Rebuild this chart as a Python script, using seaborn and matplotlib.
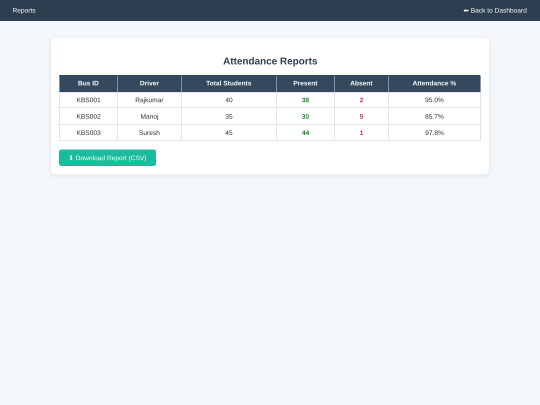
import matplotlib
matplotlib.use("Agg")
import matplotlib.pyplot as plt
import matplotlib.patheffects as pe
from matplotlib.patches import FancyBboxPatch, Rectangle
import seaborn as sns

sns.set_theme(style="white")
FONT = ["Liberation Sans", "DejaVu Sans"]
plt.rcParams["font.family"] = FONT

columns = ["Bus ID", "Driver", "Total Students", "Present", "Absent", "Attendance %"]
bus_ids = ["KBS001", "KBS002", "KBS003"]
drivers = ["Rajkumar", "Manoj", "Suresh"]
totals = [40, 35, 45]
present = [38, 30, 44]
absent = [2, 5, 1]
attendance = ["95.0%", "85.7%", "97.8%"]
col_edges = [59, 117, 181, 276, 334, 388, 480]
row_edges = [75, 91.5, 107, 123.5, 140]
row_baselines = [102.2, 118.7, 135.0]

W, H = 540, 405
fig = plt.figure(figsize=(W / 100, H / 100), dpi=100, facecolor="#f4f7fb")
ax = fig.add_axes([0, 0, 1, 1])
ax.set_xlim(0, W)
ax.set_ylim(H, 0)
ax.axis("off")


def label(x, y, s, color, size, weight="normal", ha="center"):
    ax.text(x, y, s, color=color, fontsize=size, fontweight=weight, ha=ha, va="baseline",
            path_effects=[pe.Normal()])


# nav bar
ax.add_patch(Rectangle((0, 0), W, 20.5, fc="#2c3e50", ec="none"))
label(12.5, 12.6, "Reports", "white", 4.75, ha="left")
label(527, 12.6, "⬅ Back to Dashboard", "white", 4.75, ha="right")

# card shadow + card
for grow, a in [(5, 0.004), (4, 0.005), (3, 0.006), (2, 0.008), (1, 0.01)]:
    ax.add_patch(FancyBboxPatch((51 - grow, 38 - grow + 1.5), 438 + 2 * grow, 136 + 2 * grow,
                                boxstyle=f"round,pad=0,rounding_size={6 + grow}",
                                fc="black", ec="none", alpha=a))
ax.add_patch(FancyBboxPatch((51, 38), 438, 136, boxstyle="round,pad=0,rounding_size=5",
                            fc="white", ec="none"))

label(270, 64.4, "Attendance Reports", "#2c3e50", 7.15, "bold")

# table
ax.add_patch(Rectangle((col_edges[0], row_edges[0]), col_edges[-1] - col_edges[0],
                       row_edges[1] - row_edges[0], fc="#34495e", ec="none"))
for x in col_edges:
    ax.plot([x, x], [row_edges[0], row_edges[1]], color="#8494a3", lw=0.7, solid_capstyle="butt")
    ax.plot([x, x], [row_edges[1], row_edges[-1]], color="#e3e5e8", lw=0.7, solid_capstyle="butt")
for y in row_edges[1:]:
    ax.plot([col_edges[0], col_edges[-1]], [y, y], color="#e3e5e8", lw=0.7, solid_capstyle="butt")

centers = [(a + b) / 2 + 0.5 for a, b in zip(col_edges, col_edges[1:])]
for cx, name in zip(centers, columns):
    label(cx, 85.4, name, "white", 4.75, "bold")

rows = zip(bus_ids, drivers, totals, present, absent, attendance)
for base, row in zip(row_baselines, rows):
    for j, val in enumerate(row):
        color, weight = "#333333", "normal"
        if j == 3:
            color, weight = "#1a8a2a", "bold"
        elif j == 4:
            color, weight = "#e0282e", "bold"
        label(centers[j], base, str(val), color, 4.75, weight)

# button
ax.add_patch(FancyBboxPatch((59, 149.5), 97, 16.5, boxstyle="round,pad=0,rounding_size=2.5",
                            fc="#1abc9c", ec="none"))
label(107.5, 160.2, "⬇ Download Report (CSV)", "white", 4.75)

fig.savefig("out.png", dpi=100, facecolor=fig.get_facecolor())
